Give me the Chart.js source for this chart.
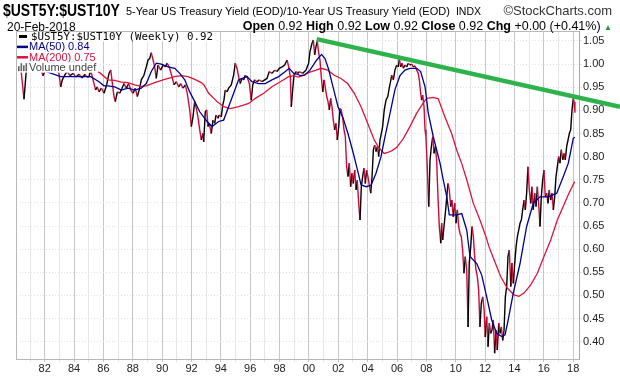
<!DOCTYPE html>
<html>
<head>
<meta charset="utf-8">
<script src="https://cdn.jsdelivr.net/npm/chart.js@4.4.1/dist/chart.umd.min.js"></script>
<style>
    body { margin: 0; background: #fff; font-family: "Liberation Sans", Arial, sans-serif; }
    #wrap { position: relative; width: 620px; height: 376px; overflow: hidden; }
    #c { position: absolute; left: 0; top: 0; }
    .t { position: absolute; white-space: nowrap; color: #000; }
    .t b { font-weight: bold; }
</style>
</head>
<body>
<div id="wrap">
    <canvas id="c" width="620" height="376"></canvas>
    <div class="t" style="left:3px; top:1px; font-size:17px; font-weight:bold; transform:scaleX(0.82); transform-origin:left top;">$UST5Y:$UST10Y</div>
    <div class="t" style="left:126px; top:5px; font-size:11px;">5-Year US Treasury Yield (EOD)/10-Year US Treasury Yield (EOD) <span style="font-size:10.5px; margin-left:3px;">INDX</span></div>
    <div class="t" style="right:8px; top:3px; font-size:13px; color:#333;">©StockCharts.com</div>
    <div class="t" style="left:7px; top:20px; font-size:12px;">20-Feb-2018</div>
    <div class="t" style="right:8px; top:19px; font-size:12.5px;"><b>Open</b> 0.92 <b>High</b> 0.92 <b>Low</b> 0.92 <b>Close</b> 0.92 <b>Chg</b> +0.00 (+0.41%) <span style="color:#1a9c3a; font-size:8px;">▲</span></div>
</div>
<script>
// weekly ratio (decimal years)
const priceDates = [
    1980.08, 1980.25, 1980.41, 1980.59, 1980.73, 1980.93, 1981.20, 1981.48, 1981.75, 1981.88,
    1982.02, 1982.29, 1982.57, 1982.84, 1982.97, 1983.09, 1983.20, 1983.31, 1983.52, 1983.72,
    1983.93, 1984.13, 1984.34, 1984.54, 1984.75, 1984.88, 1985.02, 1985.13, 1985.36, 1985.47,
    1985.58, 1985.70, 1985.86, 1986.04, 1986.22, 1986.38, 1986.50, 1986.58, 1986.72, 1986.81,
    1986.95, 1987.11, 1987.27, 1987.40, 1987.56, 1987.72, 1987.86, 1988.02, 1988.17, 1988.31,
    1988.47, 1988.58, 1988.76, 1988.92, 1989.04, 1989.15, 1989.26, 1989.38, 1989.49, 1989.60,
    1989.72, 1989.90, 1990.06, 1990.21, 1990.35, 1990.51, 1990.67, 1990.81, 1990.97, 1991.13,
    1991.27, 1991.42, 1991.58, 1991.71, 1991.88, 1991.99, 1992.10, 1992.22, 1992.33, 1992.44,
    1992.56, 1992.67, 1992.78, 1992.83, 1992.94, 1993.04, 1993.12, 1993.21, 1993.35, 1993.46,
    1993.58, 1993.67, 1993.81, 1993.89, 1994.03, 1994.13, 1994.21, 1994.30, 1994.42, 1994.53,
    1994.71, 1994.87, 1994.98, 1995.10, 1995.21, 1995.32, 1995.44, 1995.56, 1995.66, 1995.78,
    1995.94, 1996.07, 1996.17, 1996.30, 1996.46, 1996.62, 1996.80, 1996.99, 1997.14, 1997.30,
    1997.48, 1997.67, 1997.82, 1997.98, 1998.17, 1998.35, 1998.51, 1998.62, 1998.73, 1998.80,
    1998.89, 1998.98, 1999.12, 1999.26, 1999.34, 1999.57, 1999.80, 1999.98, 2000.07, 2000.21,
    2000.30, 2000.39, 2000.48, 2000.57, 2000.67, 2000.75, 2000.84, 2000.94, 2001.03, 2001.12,
    2001.21, 2001.30, 2001.39, 2001.48, 2001.57, 2001.66, 2001.75, 2001.84, 2001.93, 2002.03,
    2002.12, 2002.20, 2002.30, 2002.39, 2002.48, 2002.57, 2002.66, 2002.75, 2002.84, 2002.93,
    2003.02, 2003.12, 2003.21, 2003.29, 2003.39, 2003.48, 2003.57, 2003.66, 2003.75, 2003.84,
    2003.93, 2004.02, 2004.11, 2004.21, 2004.30, 2004.39, 2004.48, 2004.57, 2004.66, 2004.75,
    2004.84, 2004.93, 2005.02, 2005.13, 2005.25, 2005.37, 2005.47, 2005.56, 2005.64, 2005.75,
    2005.86, 2005.98, 2006.09, 2006.16, 2006.25, 2006.34, 2006.43, 2006.54, 2006.66, 2006.77,
    2006.88, 2007.00, 2007.11, 2007.23, 2007.34, 2007.45, 2007.52, 2007.61, 2007.68, 2007.75,
    2007.84, 2007.91, 2007.97, 2008.06, 2008.16, 2008.25, 2008.34, 2008.43, 2008.52, 2008.61,
    2008.70, 2008.79, 2008.88, 2008.98, 2009.04, 2009.11, 2009.20, 2009.29, 2009.39, 2009.47,
    2009.56, 2009.66, 2009.74, 2009.83, 2009.93, 2010.02, 2010.11, 2010.20, 2010.29, 2010.38,
    2010.47, 2010.56, 2010.65, 2010.75, 2010.84, 2010.92, 2011.02, 2011.11, 2011.20, 2011.29,
    2011.38, 2011.47, 2011.56, 2011.65, 2011.74, 2011.84, 2011.93, 2012.01, 2012.11, 2012.20,
    2012.29, 2012.38, 2012.47, 2012.56, 2012.65, 2012.74, 2012.83, 2012.93, 2013.02, 2013.11,
    2013.20, 2013.29, 2013.38, 2013.47, 2013.56, 2013.65, 2013.75, 2013.83, 2013.92, 2014.02,
    2014.11, 2014.20, 2014.29, 2014.38, 2014.47, 2014.56, 2014.65, 2014.74, 2014.83, 2014.92,
    2015.01, 2015.11, 2015.19, 2015.28, 2015.38, 2015.47, 2015.56, 2015.65, 2015.74, 2015.83,
    2015.92, 2016.01, 2016.10, 2016.20, 2016.28, 2016.37, 2016.47, 2016.56, 2016.65, 2016.74,
    2016.83, 2016.92, 2017.01, 2017.10, 2017.19, 2017.29, 2017.37, 2017.46, 2017.56, 2017.65,
    2017.74, 2017.83, 2017.92, 2018.01, 2018.07, 2018.12
];
const priceValues = [
    0.990, 1.000, 0.980, 0.924, 0.980, 1.000, 0.990, 1.000, 0.990, 0.975,
    0.985, 1.000, 0.990, 0.985, 0.980, 0.951, 0.966, 0.973, 0.985, 0.975,
    0.980, 0.972, 0.978, 0.970, 0.978, 0.972, 0.973, 0.987, 0.958, 0.944,
    0.951, 0.940, 0.948, 0.937, 0.955, 0.980, 0.987, 0.966, 0.930, 0.919,
    0.940, 0.937, 0.948, 0.958, 0.948, 0.958, 0.944, 0.937, 0.948, 0.930,
    0.948, 0.966, 0.976, 0.994, 1.009, 1.012, 1.025, 1.009, 0.994, 0.969,
    0.998, 0.987, 0.998, 0.994, 1.002, 0.991, 0.973, 0.955, 0.962, 0.951,
    0.958, 0.948, 0.955, 0.937, 0.901, 0.865, 0.886, 0.919, 0.904, 0.886,
    0.858, 0.836, 0.850, 0.832, 0.897, 0.901, 0.865, 0.872, 0.850, 0.879,
    0.872, 0.890, 0.883, 0.890, 0.886, 0.912, 0.922, 0.944, 0.940, 0.948,
    0.955, 0.976, 1.002, 0.991, 0.973, 0.958, 0.969, 0.966, 0.976, 0.973,
    0.958, 0.922, 0.955, 0.966, 0.962, 0.966, 0.962, 0.966, 0.969, 0.984,
    0.980, 0.987, 0.984, 0.991, 0.994, 0.998, 1.009, 0.994, 0.973, 0.908,
    0.944, 0.976, 0.984, 0.980, 0.984, 0.980, 0.987, 1.002, 1.027, 1.045,
    1.052, 1.020, 1.038, 1.049, 1.023, 1.009, 0.973, 0.940, 0.966, 0.948,
    0.930, 0.919, 0.901, 0.926, 0.908, 0.879, 0.858, 0.872, 0.836, 0.865,
    0.904, 0.901, 0.883, 0.858, 0.843, 0.778, 0.757, 0.786, 0.735, 0.764,
    0.742, 0.771, 0.728, 0.749, 0.699, 0.663, 0.735, 0.757, 0.775, 0.742,
    0.771, 0.757, 0.739, 0.721, 0.757, 0.815, 0.825, 0.811, 0.822, 0.800,
    0.836, 0.850, 0.865, 0.901, 0.922, 0.930, 0.948, 0.962, 0.976, 0.966,
    0.987, 0.998, 0.994, 1.012, 0.994, 1.002, 0.991, 0.998, 0.994, 1.002,
    0.998, 1.000, 0.994, 0.996, 0.987, 0.980, 0.966, 0.937, 0.922, 0.933,
    0.908, 0.858, 0.843, 0.778, 0.692, 0.793, 0.822, 0.843, 0.807, 0.822,
    0.793, 0.713, 0.649, 0.613, 0.656, 0.620, 0.649, 0.677, 0.713, 0.742,
    0.728, 0.692, 0.706, 0.670, 0.699, 0.656, 0.685, 0.649, 0.634, 0.627,
    0.598, 0.548, 0.584, 0.555, 0.432, 0.570, 0.605, 0.649, 0.627, 0.584,
    0.555, 0.541, 0.512, 0.432, 0.483, 0.497, 0.470, 0.410, 0.454, 0.389,
    0.440, 0.418, 0.425, 0.447, 0.375, 0.425, 0.382, 0.440, 0.418, 0.432,
    0.403, 0.425, 0.497, 0.519, 0.584, 0.598, 0.519, 0.570, 0.526, 0.570,
    0.605, 0.627, 0.641, 0.656, 0.663, 0.685, 0.706, 0.685, 0.721, 0.778,
    0.728, 0.699, 0.735, 0.685, 0.721, 0.692, 0.735, 0.699, 0.649, 0.713,
    0.749, 0.771, 0.713, 0.721, 0.699, 0.728, 0.706, 0.721, 0.685, 0.713,
    0.757, 0.778, 0.800, 0.786, 0.815, 0.793, 0.807, 0.793, 0.822, 0.836,
    0.850, 0.858, 0.901, 0.926, 0.918, 0.895
];

// MA(50)
const ma50Dates = [
    1980.11, 1981.00, 1982.02, 1983.09, 1983.86, 1984.75, 1985.13, 1985.70, 1986.04, 1986.31,
    1986.77, 1987.22, 1987.67, 1988.13, 1988.58, 1988.92, 1989.26, 1989.60, 1989.94, 1990.40,
    1990.86, 1991.20, 1991.54, 1991.88, 1992.22, 1992.56, 1992.85, 1993.06, 1993.40, 1993.85,
    1994.19, 1994.53, 1994.87, 1995.21, 1995.78, 1996.12, 1996.58, 1997.03, 1997.48, 1997.94,
    1998.39, 1998.66, 1998.96, 1999.26, 1999.39, 1999.70, 2000.07, 2000.53, 2000.86, 2001.09,
    2001.33, 2001.64, 2001.98, 2002.32, 2002.66, 2003.00, 2003.31, 2003.55, 2003.89, 2004.23,
    2004.57, 2004.91, 2005.18, 2005.52, 2005.86, 2006.20, 2006.54, 2006.88, 2007.34, 2007.61,
    2007.91, 2008.13, 2008.47, 2008.93, 2009.15, 2009.39, 2009.56, 2010.07, 2010.41, 2010.75,
    2010.97, 2011.43, 2011.77, 2012.11, 2012.45, 2012.79, 2013.13, 2013.36, 2013.56, 2013.92,
    2014.38, 2014.83, 2015.28, 2015.74, 2016.31, 2016.88, 2017.33, 2017.67, 2018.01, 2018.12
];
const ma50Values = [
    0.990, 0.985, 0.985, 0.973, 0.973, 0.973, 0.973, 0.962, 0.953, 0.953,
    0.951, 0.944, 0.948, 0.944, 0.948, 0.958, 0.984, 1.002, 1.000, 0.994,
    0.991, 0.980, 0.966, 0.940, 0.919, 0.897, 0.885, 0.876, 0.865, 0.876,
    0.879, 0.908, 0.937, 0.966, 0.973, 0.962, 0.958, 0.958, 0.966, 0.973,
    0.984, 0.991, 0.980, 0.978, 0.975, 0.976, 0.987, 1.009, 1.021, 1.012,
    0.990, 0.951, 0.908, 0.884, 0.850, 0.810, 0.771, 0.739, 0.735, 0.738,
    0.764, 0.800, 0.843, 0.893, 0.945, 0.975, 0.987, 0.991, 0.991, 0.984,
    0.951, 0.894, 0.843, 0.786, 0.750, 0.713, 0.674, 0.674, 0.677, 0.641,
    0.584, 0.569, 0.544, 0.497, 0.447, 0.418, 0.411, 0.415, 0.445, 0.505,
    0.569, 0.649, 0.699, 0.713, 0.713, 0.721, 0.757, 0.786, 0.840, 0.842
];

// MA(200)
const ma200Dates = [
    1980.11, 1982.36, 1984.40, 1985.17, 1985.77, 1986.31, 1986.77, 1987.22, 1987.67, 1988.13,
    1988.58, 1988.92, 1989.49, 1990.17, 1990.86, 1991.31, 1991.76, 1992.22, 1992.67, 1992.85,
    1993.17, 1993.74, 1994.19, 1994.64, 1995.21, 1995.90, 1996.35, 1996.92, 1997.48, 1998.05,
    1998.62, 1998.96, 1999.26, 1999.57, 2000.02, 2000.48, 2000.82, 2001.28, 2001.73, 2002.18,
    2002.64, 2003.09, 2003.55, 2004.00, 2004.45, 2004.79, 2005.13, 2005.37, 2005.66, 2005.98,
    2006.43, 2006.88, 2007.34, 2007.79, 2008.02, 2008.47, 2008.81, 2009.27, 2009.72, 2010.07,
    2010.41, 2010.75, 2011.20, 2011.65, 2012.06, 2012.27, 2012.61, 2013.06, 2013.51, 2013.97,
    2014.31, 2014.65, 2015.11, 2015.56, 2016.01, 2016.47, 2016.92, 2017.37, 2017.71, 2018.10
];
const ma200Values = [
    0.990, 0.990, 0.990, 0.989, 0.981, 0.966, 0.965, 0.961, 0.960, 0.955,
    0.952, 0.953, 0.960, 0.967, 0.973, 0.975, 0.973, 0.967, 0.960, 0.955,
    0.937, 0.919, 0.908, 0.904, 0.908, 0.915, 0.926, 0.937, 0.951, 0.962,
    0.973, 0.975, 0.972, 0.975, 0.982, 0.987, 0.991, 0.987, 0.976, 0.969,
    0.958, 0.937, 0.908, 0.872, 0.836, 0.818, 0.807, 0.809, 0.813, 0.820,
    0.839, 0.865, 0.894, 0.916, 0.926, 0.928, 0.925, 0.885, 0.850, 0.814,
    0.785, 0.750, 0.699, 0.663, 0.627, 0.605, 0.577, 0.541, 0.516, 0.501,
    0.498, 0.505, 0.523, 0.548, 0.584, 0.620, 0.663, 0.696, 0.721, 0.746
];

// hand drawn green trendline
const trendDates = [2000.53, 2021.19];
const trendValues = [1.054, 0.908];

const yearTicks = [];
for (let y = 1981; y <= 2018; y++) yearTicks.push(y);
const yTicks = [0.40, 0.45, 0.50, 0.55, 0.60, 0.65, 0.70, 0.75, 0.80, 0.85, 0.90, 0.95, 1.00, 1.05];

const legendRows = [
    { text: '$UST5Y:$UST10Y (Weekly) 0.92', color: '#000', font: '10.8px "DejaVu Sans Mono", monospace', x: 31 },
    { text: 'MA(50) 0.84', color: '#00008b', font: '11px "Liberation Sans", Arial, sans-serif', x: 29 },
    { text: 'MA(200) 0.75', color: '#d7103c', font: '11px "Liberation Sans", Arial, sans-serif', x: 29 },
    { text: 'Volume undef', color: '#444', font: '11px "Liberation Sans", Arial, sans-serif', x: 29 }
];

const toPoints = (xs, ys) => xs.map((x, i) => ({ x: x, y: ys[i] }));

const RED = '#d3083a';

// legend boxes drawn on top of the lines, stockcharts style
const scLegend = {
    id: 'scLegend',
    afterDatasetsDraw(chart) {
        const ctx = chart.ctx;
        const a = chart.chartArea;
        ctx.save();
        legendRows.forEach((row, i) => {
            const cy = a.top + 5 + i * 10.4;
            ctx.font = row.font;
            const w = ctx.measureText(row.text).width;
            ctx.fillStyle = '#fff';
            ctx.fillRect(a.left + 1, cy - 5, row.x - a.left + w + 1, 10.5);
            if (i < 3) {
                ctx.strokeStyle = row.color;
                ctx.lineWidth = i === 0 ? 3 : 2.5;
                ctx.beginPath();
                ctx.moveTo(i === 0 ? 19 : 17, cy + 0.5);
                ctx.lineTo(i === 0 ? 27 : 28, cy + 0.5);
                ctx.stroke();
            } else {
                ctx.fillStyle = '#666';
                [[18, 5], [20.5, 8], [23, 6], [25.5, 8]].forEach(b => ctx.fillRect(b[0], cy + 4 - b[1], 1.6, b[1]));
            }
            ctx.fillStyle = row.color;
            ctx.textBaseline = 'middle';
            ctx.fillText(row.text, row.x, cy + 1);
        });
        ctx.restore();
    },
    afterDraw(chart) {
        // left / top frame of the plot
        const ctx = chart.ctx;
        const a = chart.chartArea;
        ctx.save();
        ctx.strokeStyle = '#b8b8b8';
        ctx.lineWidth = 1;
        ctx.beginPath();
        ctx.moveTo(a.left + 0.5, a.bottom);
        ctx.lineTo(a.left + 0.5, a.top + 0.5);
        ctx.lineTo(a.right, a.top + 0.5);
        ctx.stroke();
        ctx.restore();
    }
};

new Chart(document.getElementById('c'), {
    type: 'line',
    data: {
        datasets: [
            {
                label: 'Trend',
                data: toPoints(trendDates, trendValues),
                borderColor: '#2db34a',
                borderWidth: 4.5,
                clip: false,
                pointRadius: 0
            },
            {
                label: 'MA(50)',
                data: toPoints(ma50Dates, ma50Values),
                borderColor: '#000090',
                borderWidth: 1.3,
                pointRadius: 0
            },
            {
                label: 'MA(200)',
                data: toPoints(ma200Dates, ma200Values),
                borderColor: '#dc143c',
                borderWidth: 1.3,
                pointRadius: 0
            },
            {
                label: '$UST5Y:$UST10Y',
                data: toPoints(priceDates, priceValues),
                borderWidth: 1.4,
                pointRadius: 0,
                segment: {
                    borderColor: c => c.p1.parsed.y < c.p0.parsed.y ? RED : '#000'
                }
            }
        ]
    },
    options: {
        responsive: false,
        animation: false,
        layout: { padding: { left: 16, top: 31, right: 0, bottom: 0 } },
        elements: { line: { tension: 0 } },
        plugins: { legend: { display: false }, tooltip: { enabled: false } },
        scales: {
            x: {
                type: 'linear',
                min: 1980.045,
                max: 2018.397,
                afterBuildTicks: s => { s.ticks = yearTicks.map(v => ({ value: v })); },
                afterFit: s => { s.height = 17; },
                ticks: {
                    autoSkip: false,
                    maxRotation: 0,
                    padding: 0,
                    color: '#222',
                    font: { family: '"Liberation Sans", Arial, sans-serif', size: 11 },
                    callback: v => v % 2 === 0 ? String(v).slice(2) : ''
                },
                grid: {
                    color: c => (c.tick && c.tick.value % 2 === 0) ? '#c6c6c6' : '#e6e6e6',
                    tickLength: 3
                },
                border: { color: '#b8b8b8' }
            },
            y: {
                position: 'right',
                min: 0.3626,
                max: 1.0716,
                afterBuildTicks: s => { s.ticks = yTicks.map(v => ({ value: v })); },
                afterFit: s => { s.width = 41; },
                ticks: {
                    padding: 1,
                    color: '#222',
                    font: { family: '"Liberation Sans", Arial, sans-serif', size: 11 },
                    callback: v => v.toFixed(2)
                },
                grid: { color: '#e2e2e2', tickLength: 3 },
                border: { color: '#a8a8a8', dash: [1, 2] }
            }
        }
    },
    plugins: [scLegend]
});
</script>
</body>
</html>
